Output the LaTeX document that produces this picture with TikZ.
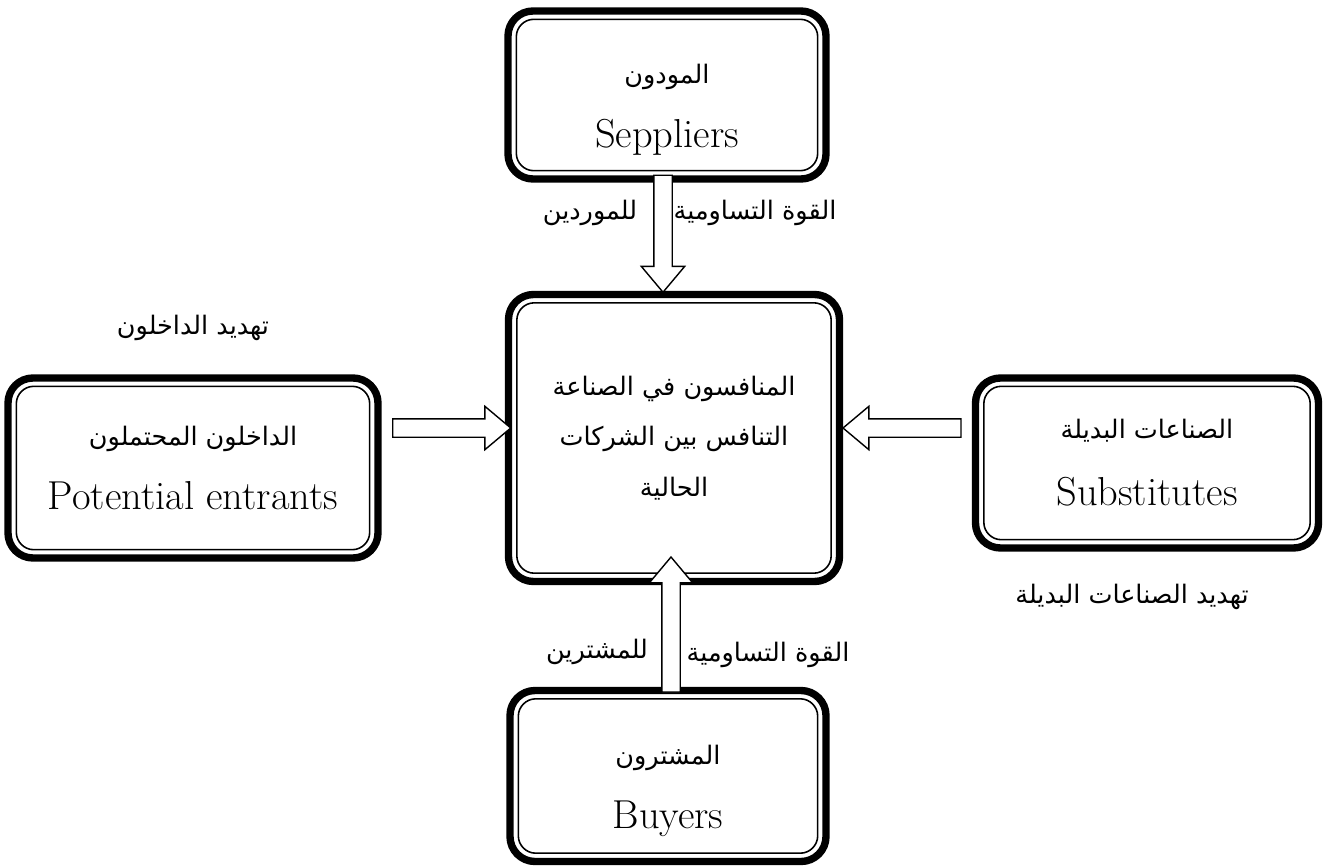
\documentclass[tikz,border=0pt]{standalone}
\usepackage{fontspec}
\newfontfamily\arabicfont[Script=Arabic]{DejaVu Sans}
\TeXXeTstate=1
\usepackage{tikz}
\usetikzlibrary{shapes.arrows, calc}
\newcommand{\artxt}[1]{{\arabicfont\fontsize{14.5}{16}\selectfont\beginR #1\endR}}
\newcommand{\entxt}[1]{{\fontsize{23}{26}\selectfont #1}}
\newcommand{\lift}{\rule{0pt}{28pt}}
\tikzstyle{force} = [draw, line width=4.2pt, rounded corners=0.5cm, align=center, inner sep=0pt]
\tikzstyle{innerline} = [line width=0.9pt, rounded corners=0.35cm]
\tikzstyle{fatarrow} = [single arrow, draw, fill=white, line width=0.8pt, inner sep=0.17cm, minimum width=0.86cm, single arrow head extend=0.25cm, single arrow tip angle=80]
\tikzstyle{lbl} = [inner sep=0pt]

\begin{document}
\begin{tikzpicture}
	\useasboundingbox (0,0) rectangle (26.5,-17.32);
	\node[force, minimum width=6.36cm, minimum height=3.36cm] (sup) at (13.34,-1.9) {\lift\artxt{المودون}\\[16pt]\entxt{Seppliers}};
	\node[force, minimum width=6.62cm, minimum height=5.74cm] (comp) at (13.48,-8.76) {\artxt{المنافسون في الصناعة}\\[13pt]\artxt{التنافس بين الشركات}\\[13pt]\artxt{الحالية}};
	\node[force, minimum width=7.4cm, minimum height=3.6cm] (ent) at (3.86,-9.36) {\artxt{الداخلون المحتملون}\\[16pt]\entxt{Potential entrants}};
	\node[force, minimum width=6.86cm, minimum height=3.4cm] (sub) at (22.94,-9.26) {\artxt{الصناعات البديلة}\\[19pt]\entxt{Substitutes}};
	\node[force, minimum width=6.32cm, minimum height=3.42cm] (buy) at (13.36,-15.52) {\lift\artxt{المشترون}\\[16pt]\entxt{Buyers}};
	\foreach \n in {sup,comp,ent,sub,buy}
		\draw[innerline] ([xshift=0.24cm,yshift=-0.24cm]\n.north west) rectangle ([xshift=-0.24cm,yshift=0.24cm]\n.south east);
	\node[fatarrow, minimum height=2.34cm, shape border rotate=270] (supArr) at ($(sup.south)!0.5!(comp.north)+(-0.15,0.17)$) {};
	\node[fatarrow, minimum height=2.7cm, shape border rotate=90] (buyArr) at ($(buy.north)!0.5!(comp.south)+(0,0.12)$) {};
	\node[fatarrow, minimum height=2.36cm, shape border rotate=0] (entArr) at ($(ent.east |- comp.west)!0.5!(comp.west)+(0.06,0.2)$) {};
	\node[fatarrow, minimum height=2.36cm, shape border rotate=180] (subArr) at ($(sub.west |- comp.east)!0.5!(comp.east)+(0,0.2)$) {};
	\node[lbl] (supL) at (11.8,-4.26) {\artxt{للموردين}};
	\node[lbl] (supR) at (15.1,-4.26) {\artxt{القوة التساومية}};
	\node[lbl] (buyL) at (11.94,-13.04) {\artxt{للمشترين}};
	\node[lbl] (buyR) at (15.36,-13.1) {\artxt{القوة التساومية}};
	\node[lbl] (entLbl) at (3.86,-6.56) {\artxt{تهديد الداخلون}};
	\node[lbl] (subLbl) at (22.64,-11.94) {\artxt{تهديد الصناعات البديلة}};
\end{tikzpicture}
\end{document}
